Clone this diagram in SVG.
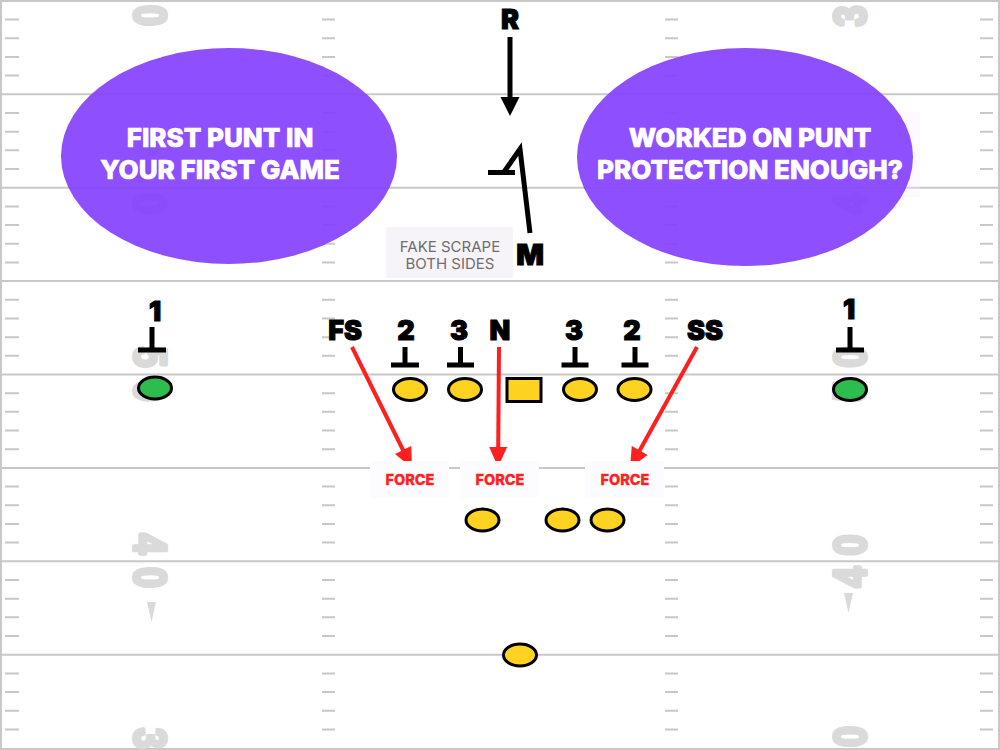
<svg xmlns="http://www.w3.org/2000/svg" width="1000" height="750" viewBox="0 0 1000 750">
<defs>
<style>
.yl{stroke:#c8c8c8;stroke-width:2}
.hash{stroke:#c8c8c8;stroke-width:2;fill:none}
.num{font-family:"Liberation Sans",Arial,sans-serif;font-weight:700;font-size:47px;fill:#dadada;stroke:#dadada;stroke-width:4;stroke-linejoin:round;text-anchor:middle}
.tri{fill:#dadada}
.bub{fill:#8440ff;opacity:0.92}
.bubt{font-family:Inter,"Noto Sans",sans-serif;font-weight:800;font-size:26px;fill:#fff;stroke:#fff;stroke-width:0.7;text-anchor:middle}
.lbl{font-family:Inter,"Noto Sans",sans-serif;font-weight:900;font-size:27px;fill:#000;stroke:#000;stroke-width:1;text-anchor:middle}
.blk{stroke:#000;stroke-width:5;fill:none}
.yel{fill:#fdd221;stroke:#000;stroke-width:3}
.grn{fill:#2cbd4c;stroke:#000;stroke-width:3}
.red{stroke:#ff1f1f;stroke-width:4;fill:none}
.redh{fill:#ff1f1f}
.blkl{stroke:#000;stroke-width:5;fill:none}
.force{font-family:Inter,"Noto Sans",sans-serif;font-weight:800;font-size:14.5px;fill:#ff1f1f;stroke:#ff1f1f;stroke-width:0.3;text-anchor:middle}
.fbg{fill:#fcfbfe}
.note{font-family:Inter,"Noto Sans",sans-serif;font-size:15px;fill:#6e6e6e;text-anchor:middle}
</style>
<path id="seg" class="hash" d="M5,18.68h14M322,18.68h13M665,18.68h13M980,18.68h13M5,37.36h14M322,37.36h13M665,37.36h13M980,37.36h13M5,56.04h14M322,56.04h13M665,56.04h13M980,56.04h13M5,74.72h14M322,74.72h13M665,74.72h13M980,74.72h13"/>
</defs>

<g id="field">
<rect x="1" y="1" width="998" height="748" fill="#fff" stroke="#c8c8c8" stroke-width="2"/>
<line class="yl" x1="0" x2="1000" y1="94.3" y2="94.3"/>
<line class="yl" x1="0" x2="1000" y1="187.7" y2="187.7"/>
<line class="yl" x1="0" x2="1000" y1="281.1" y2="281.1"/>
<line class="yl" x1="0" x2="1000" y1="374.5" y2="374.5"/>
<line class="yl" x1="0" x2="1000" y1="467.9" y2="467.9"/>
<line class="yl" x1="0" x2="1000" y1="561.3" y2="561.3"/>
<line class="yl" x1="0" x2="1000" y1="654.7" y2="654.7"/>
<use href="#seg" y="0.9"/>
<use href="#seg" y="94.3"/>
<use href="#seg" y="187.7"/>
<use href="#seg" y="281.1"/>
<use href="#seg" y="374.5"/>
<use href="#seg" y="467.9"/>
<use href="#seg" y="561.3"/>
<use href="#seg" y="654.7"/>
<!-- left numbers -->
<text class="num" transform="translate(151.5,15.5) rotate(90) scale(0.8,1)" y="17">0</text>
<text class="num" transform="translate(151.5,170) rotate(90) scale(0.8,1)" y="17">4</text>
<text class="num" transform="translate(151.5,203.5) rotate(90) scale(0.8,1)" y="17">0</text>
<text class="num" transform="translate(151.5,357) rotate(90) scale(0.8,1)" y="17">5</text>
<text class="num" transform="translate(151.5,391) rotate(90) scale(0.8,1)" y="17">0</text>
<text class="num" transform="translate(151.5,544) rotate(90) scale(0.8,1)" y="17">4</text>
<text class="num" transform="translate(151.5,577.5) rotate(90) scale(0.8,1)" y="17">0</text>
<text class="num" transform="translate(151.5,738.5) rotate(90) scale(0.8,1)" y="17">3</text>
<polygon class="tri" points="147,156 156,156 151.5,136"/>
<polygon class="tri" points="147,602 156,602 151.5,622"/>
<!-- right numbers -->
<text class="num" transform="translate(849,16) rotate(-90) scale(0.8,1)" y="17">3</text>
<text class="num" transform="translate(849,170) rotate(-90) scale(0.8,1)" y="17">0</text>
<text class="num" transform="translate(849,203.5) rotate(-90) scale(0.8,1)" y="17">4</text>
<text class="num" transform="translate(849,357) rotate(-90) scale(0.8,1)" y="17">0</text>
<text class="num" transform="translate(849,391) rotate(-90) scale(0.8,1)" y="17">5</text>
<text class="num" transform="translate(849,545) rotate(-90) scale(0.8,1)" y="17">0</text>
<text class="num" transform="translate(849,577) rotate(-90) scale(0.8,1)" y="17">4</text>
<text class="num" transform="translate(849,736.5) rotate(-90) scale(0.8,1)" y="17">0</text>
<polygon class="tri" points="844.5,156 853.5,156 849,136"/>
<polygon class="tri" points="844,593 853,593 848.5,613"/>
</g>

<g id="bubble-left">
<ellipse class="bub" cx="229" cy="156" rx="168" ry="108"/>
<text class="bubt" x="220" y="147">FIRST PUNT IN</text>
<text class="bubt" x="220" y="179">YOUR FIRST GAME</text>
</g>
<g id="bubble-right">
<rect x="588" y="112" width="332" height="85" fill="#f6eeff" opacity="0.3"/>
<ellipse class="bub" cx="745" cy="157" rx="168" ry="109"/>
<text class="bubt" x="750" y="147">WORKED ON PUNT</text>
<text class="bubt" x="750" y="179">PROTECTION ENOUGH?</text>
</g>

<g id="note-fake-scrape">
<rect x="386" y="227" width="127" height="51" fill="#f6f4f9"/>
<text class="note" x="450" y="252">FAKE SCRAPE</text>
<text class="note" x="450" y="269">BOTH SIDES</text>
</g>

<g id="connectors">
<path class="blkl" d="M510,37V99"/>
<polygon points="500.5,97 519.5,97 510,116" fill="#000"/>
<path class="blkl" d="M530,233L520,149L504,172" stroke-linejoin="miter"/>
<path class="blkl" d="M488,172.5H515"/>
<path class="red" d="M352,347L404,452"/>
<polygon class="redh" points="395,454.1 411.2,446.1 412,468"/>
<path class="red" d="M499,347L498.2,449"/>
<polygon class="redh" points="489.2,447 507.2,447 498,467"/>
<path class="red" d="M697,347L638.7,452.3"/>
<polygon class="redh" points="647.6,454.9 631.8,446.1 630,468"/>
</g>

<g id="R"><text class="lbl" x="510" y="29">R</text></g>
<g id="M"><text class="lbl" x="530" y="265" style="font-size:29px">M</text></g>

<g id="gunner-left">
<text class="lbl" x="155" y="321">1</text>
<path class="blk" d="M152,327V350M138,350H166"/>
<ellipse class="grn" cx="155" cy="388" rx="16.5" ry="11"/>
</g>
<g id="gunner-right">
<text class="lbl" x="849" y="319">1</text>
<path class="blk" d="M850,327V350M836,350H864"/>
<ellipse class="grn" cx="850" cy="389.5" rx="16.5" ry="11"/>
</g>

<g id="FS"><text class="lbl" x="345" y="340">FS</text></g>
<g id="N"><text class="lbl" x="500" y="340">N</text></g>
<g id="SS"><text class="lbl" x="705" y="340">SS</text></g>

<g id="rusher-2-left">
<text class="lbl" x="406" y="340">2</text>
<path class="blk" d="M405,347V365M391,365H419"/>
</g>
<g id="rusher-3-left">
<text class="lbl" x="459" y="340">3</text>
<path class="blk" d="M460.5,347V365M447,365H474"/>
</g>
<g id="rusher-3-right">
<text class="lbl" x="574" y="340">3</text>
<path class="blk" d="M575,347V365M561.5,365H588.5"/>
</g>
<g id="rusher-2-right">
<text class="lbl" x="632" y="340">2</text>
<path class="blk" d="M635,347V365M621.5,365H648.5"/>
</g>

<g id="line-1"><ellipse class="yel" cx="410" cy="389.5" rx="16.5" ry="11"/></g>
<g id="line-2"><ellipse class="yel" cx="465" cy="389.5" rx="16.5" ry="11"/></g>
<g id="center"><rect class="yel" x="507" y="378.5" width="34" height="23"/></g>
<g id="line-3"><ellipse class="yel" cx="580" cy="389.5" rx="16.5" ry="11"/></g>
<g id="line-4"><ellipse class="yel" cx="634.5" cy="389.5" rx="16.5" ry="11"/></g>

<g id="force-1">
<rect class="fbg" x="370" y="461" width="79" height="37"/>
<text class="force" x="410" y="485">FORCE</text>
</g>
<g id="force-2">
<rect class="fbg" x="460" y="461" width="79" height="37"/>
<text class="force" x="500" y="485">FORCE</text>
</g>
<g id="force-3">
<rect class="fbg" x="585" y="461" width="79" height="37"/>
<text class="force" x="625" y="485">FORCE</text>
</g>

<g id="shield-1"><ellipse class="yel" cx="482.5" cy="520" rx="16.5" ry="11"/></g>
<g id="shield-2"><ellipse class="yel" cx="562.5" cy="520" rx="16.5" ry="11"/></g>
<g id="shield-3"><ellipse class="yel" cx="607.5" cy="520" rx="16.5" ry="11"/></g>
<g id="punter"><ellipse class="yel" cx="520" cy="655" rx="16.5" ry="11"/></g>
</svg>
